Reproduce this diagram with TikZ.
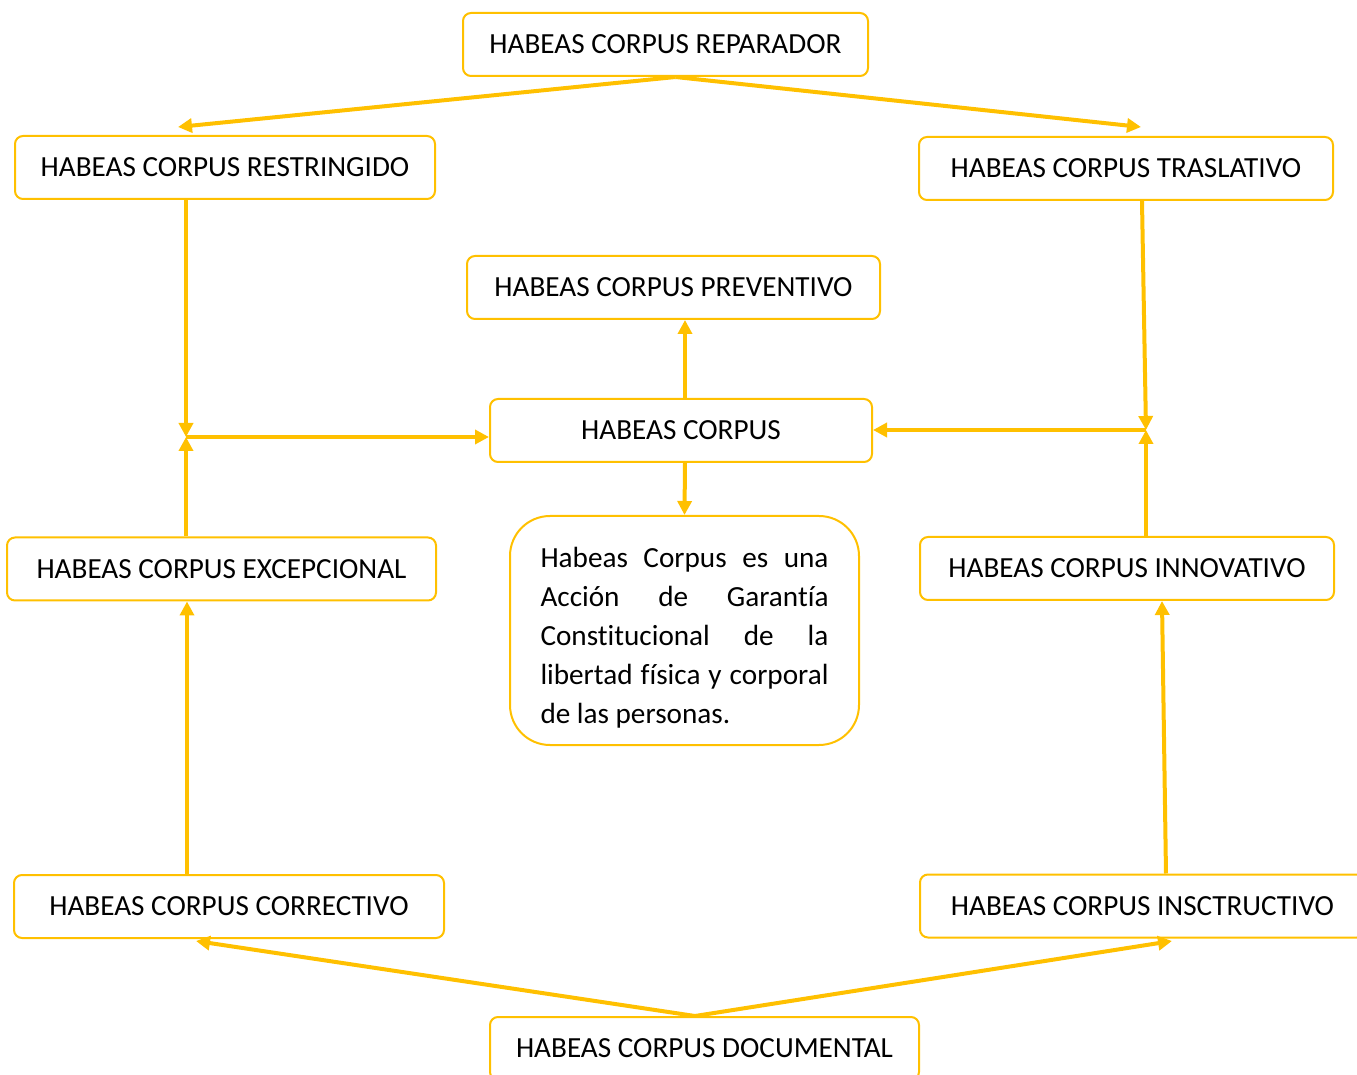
\documentclass[tikz,border=0pt]{standalone}
\usepackage{fontspec}
\setmainfont{Carlito}[Ligatures=NoCommon]
\usetikzlibrary{arrows.meta,positioning}
\definecolor{hcgold}{RGB}{255,192,0}
\tikzset{
  hcbox/.style={draw=hcgold, line width=1pt, rounded corners=4pt, minimum height=31.5pt,
    inner sep=0pt, font=\fontsize{14.6}{17}\selectfont},
  hcarrow/.style={draw=hcgold, line width=2pt, -{Triangle[length=7pt,width=7pt]}},
}
\begin{document}
\begin{tikzpicture}[x=0.5pt,y=-0.5pt]
            \clip (0,0) rectangle (1357,1075);

            \node[hcbox, minimum width=202.5pt] (rep) at (665.5,44.5) {HABEAS CORPUS REPARADOR};
            \node[hcbox, minimum width=210pt] (res) at (225,167.5) {HABEAS CORPUS RESTRINGIDO};
            \node[hcbox, minimum width=207pt] (tra) at (1126,168.5) {HABEAS CORPUS TRASLATIVO};
            \node[hcbox, minimum width=206.5pt] (pre) at (673.5,287.5) {HABEAS CORPUS PREVENTIVO};
            \node[hcbox, minimum width=191pt] (hc) at (681,430.5) {HABEAS CORPUS};
            \node[hcbox, minimum width=214.5pt] (exc) at (221.5,569) {HABEAS CORPUS EXCEPCIONAL};
            \node[hcbox, minimum width=207pt] (inn) at (1127,568.5) {HABEAS CORPUS INNOVATIVO};
            \node[hcbox, minimum width=215pt] (cor) at (229,906.5) {HABEAS CORPUS CORRECTIVO};
            \node[hcbox, minimum width=222.5pt] (ins) at (1142.5,906) {HABEAS CORPUS INSCTRUCTIVO};
            \node[hcbox, minimum width=214.5pt] (doc) at (704.5,1048.5) {HABEAS CORPUS DOCUMENTAL};

            % definition box
            \node[hcbox, rounded corners=20pt, minimum width=174.5pt, minimum height=114.5pt,
                text width=144pt, align=justify, font=\fontsize{14.6}{19.5}\selectfont]
                (def) at (684.5,630.5)
                {\rule{0pt}{17pt}Habeas Corpus es una\linebreak Acción de Garantía\linebreak
                 Constitucional de la\linebreak libertad física y corporal\linebreak
                 de las personas.};

            % free ends and junctions
            \coordinate (restip) at (178,127);
            \coordinate (tratip) at (1141,127);
            \coordinate (jl) at (186,437);
            \coordinate (jr) at (1146,430);
            \coordinate (cortip) at (196,941);
            \coordinate (instip) at (1172,941);

            \draw[hcarrow] ([xshift=5pt]rep.south) -- (restip);
            \draw[hcarrow] ([xshift=5pt]rep.south) -- (tratip);

            \draw[hcarrow] (res.south -| jl) -- (jl);
            \draw[hcarrow] (exc.north -| jl) -- (jl);
            \draw[hcarrow] (jl) -- (hc.west |- jl);

            \draw[hcarrow] ([xshift=8pt]tra.south) -- (jr);
            \draw[hcarrow] (inn.north -| jr) -- (jr);
            \draw[hcarrow] (jr) -- (hc.east |- jr);

            \draw[hcarrow] ([xshift=2pt]hc.north) -- ([xshift=2pt]hc.north |- pre.south);
            \draw[hcarrow] ([xshift=2pt]hc.south) -- (def.north);

            \draw[hcarrow] ([xshift=-21pt]cor.north) -- ([xshift=-21pt]cor.north |- exc.south);
            \draw[hcarrow] ([xshift=11.75pt]ins.north) -- ([xshift=17.5pt]inn.south);

            \draw[hcarrow] ([xshift=-4.75pt]doc.north) -- (cortip);
            \draw[hcarrow] ([xshift=-4.75pt]doc.north) -- (instip);
\end{tikzpicture}
\end{document}
